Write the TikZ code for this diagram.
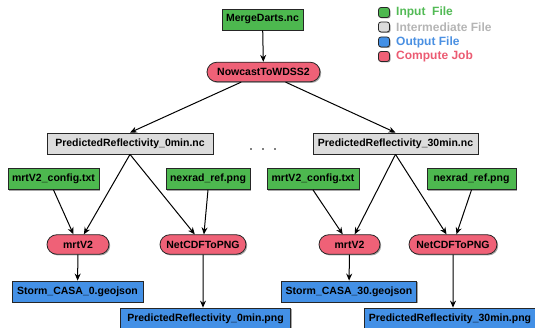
\documentclass[tikz,border=0pt]{standalone}
\usepackage{fontspec}
\setmainfont{Liberation Sans}
\usetikzlibrary{arrows.meta,shadows,shapes.misc}
\definecolor{ingreen}{HTML}{4DB84F}
\definecolor{midgray}{HTML}{DCDCDC}
\definecolor{outblue}{HTML}{4390E6}
\definecolor{jobred}{HTML}{EF6177}
\definecolor{txtgreen}{HTML}{52BA55}
\definecolor{txtgray}{HTML}{B5B5B5}
\definecolor{txtblue}{HTML}{4A90E2}
\definecolor{txtred}{HTML}{EB5B72}
\tikzset{
  base/.style={draw=black!85, line width=0.8pt, font=\fontsize{10.5}{12}\selectfont\bfseries, inner xsep=4pt, inner ysep=0pt, minimum height=21pt,
    drop shadow={shadow xshift=1.2pt, shadow yshift=-1.2pt, opacity=0.35, fill=black}},
  infile/.style={base, fill=ingreen},
  midfile/.style={base, fill=midgray},
  outfile/.style={base, fill=outblue},
  job/.style={base, fill=jobred, rounded rectangle, minimum height=19.5pt, inner xsep=6pt},
  flow/.style={-{Stealth[length=7pt,width=6pt]}, line width=1pt, black},
  legbox/.style={draw=black!85, line width=0.8pt, rounded corners=2.5pt, minimum width=11pt, minimum height=10pt, inner sep=0pt,
    drop shadow={shadow xshift=1pt, shadow yshift=-1pt, opacity=0.35, fill=black}},
  legtext/.style={anchor=west, inner sep=0pt, font=\fontsize{12}{13}\selectfont\bfseries},
  dot/.style={circle, fill=black, inner sep=0pt, minimum size=1.8pt}
}
\begin{document}
\begin{tikzpicture}[x=1pt,y=-1pt]
\useasboundingbox (0,0) rectangle (535,328);
% top
\node[infile, minimum width=81pt] (merge) at (262.5,19.5) {MergeDarts.nc};
\node[job, minimum width=125pt] (nowcast) at (263.5,72) {NowcastToWDSS2};
\node[midfile, minimum width=166pt] (p0) at (130,143.5) {PredictedReflectivity\_0min.nc};
\node[midfile, minimum width=165pt] (p30) at (395.5,143.5) {PredictedReflectivity\_30min.nc};
\node[dot] (d1) at (251,149) {};
\node[dot] (d2) at (263,149) {};
\node[dot] (d3) at (275,149) {};
% left branch
\node[infile, minimum width=91pt] (cfg0) at (53.5,179) {mrtV2\_config.txt};
\node[infile, minimum width=84pt] (nex0) at (208,179) {nexrad\_ref.png};
\node[job, minimum width=74pt] (mrt0) at (78,244.5) {mrtV2};
\node[job, minimum width=98pt] (net0) at (203,244.5) {NetCDFToPNG};
\node[outfile, minimum width=131pt] (storm0) at (77.5,291.5) {Storm\_CASA\_0.geojson};
\node[outfile, minimum width=170pt] (png0) at (205.5,318.5) {PredictedReflectivity\_0min.png};
% right branch
\node[infile, minimum width=92pt] (cfg30) at (313,179) {mrtV2\_config.txt};
\node[infile, minimum width=89pt] (nex30) at (471.5,179) {nexrad\_ref.png};
\node[job, minimum width=73pt] (mrt30) at (349.5,244.5) {mrtV2};
\node[job, minimum width=100pt] (net30) at (453,244.5) {NetCDFToPNG};
\node[outfile, minimum width=134pt] (storm30) at (349,291.5) {Storm\_CASA\_30.geojson};
\node[outfile, minimum width=167pt] (png30) at (450,318.5) {PredictedReflectivity\_30min.png};
% connectors
\draw[flow] (merge) -- (nowcast);
\draw[flow] (nowcast) -- (p0.north);
\draw[flow] (nowcast) -- (p30.north);
\draw[flow] (p0.south) -- (mrt0);
\draw[flow] (p0.south) -- (net0);
\draw[flow] (cfg0.south) -- (mrt0);
\draw[flow] (nex0.south) -- (net0);
\draw[flow] (mrt0) -- (storm0);
\draw[flow] (net0) -- (net0 |- png0.north);
\draw[flow] (p30.south) -- (mrt30);
\draw[flow] (p30.south) -- (net30);
\draw[flow] (cfg30.south) -- (mrt30);
\draw[flow] (nex30.south) -- (net30);
\draw[flow] (mrt30) -- (storm30);
\draw[flow] (net30) -- (net30 |- png30.north);
% legend
\node[legbox, fill=ingreen] (lg1) at (384,12.5) {};
\node[legbox, fill=midgray] (lg2) at (384,27) {};
\node[legbox, fill=outblue] (lg3) at (384,42) {};
\node[legbox, fill=jobred] (lg4) at (384,56.5) {};
\node[legtext, text=txtgreen] (lt1) at (396,12.5) {Input\ \ File};
\node[legtext, text=txtgray] (lt2) at (396,27) {Intermediate File};
\node[legtext, text=txtblue] (lt3) at (396,42) {Output File};
\node[legtext, text=txtred] (lt4) at (396,56.5) {Compute Job};
\end{tikzpicture}
\end{document}
